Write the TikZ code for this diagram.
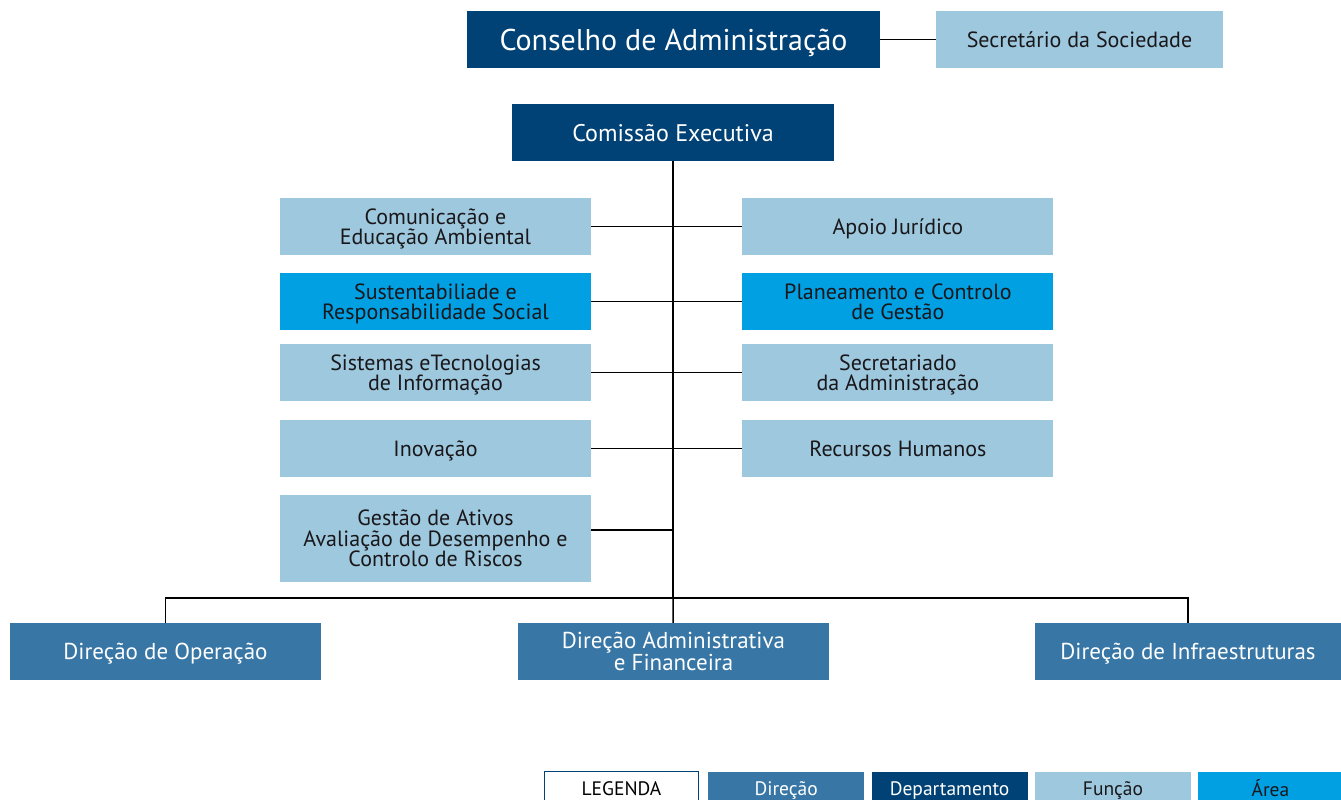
\documentclass[tikz,border=0pt]{standalone}
\usepackage{fontspec}
\setmainfont{PT Sans}
\usepackage{xcolor}
\usepackage{tikz}
\usetikzlibrary{positioning}

\definecolor{navy}{RGB}{0,66,117}
\definecolor{direcaoblue}{RGB}{55,118,165}
\definecolor{funcaoblue}{RGB}{157,200,221}
\definecolor{areablue}{RGB}{0,160,227}
\definecolor{textdark}{RGB}{26,23,27}

\begin{document}
\begin{tikzpicture}[x=1pt, y=-1pt, node distance = 151pt]
            \tikzstyle{box} = [rectangle, inner sep=0pt, align=center, minimum height=57pt, text depth=0pt, font=\fontsize{22}{20.5}\selectfont]
            \tikzstyle{departamento} = [box, fill=navy, text=white]
            \tikzstyle{direcao} = [box, fill=direcaoblue, text=white, minimum width=311pt, font=\fontsize{23}{20.5}\selectfont]
            \tikzstyle{funcao} = [box, fill=funcaoblue, text=textdark, minimum width=311pt]
            \tikzstyle{area} = [box, fill=areablue, text=textdark, minimum width=311pt]
            \tikzstyle{legenda} = [box, minimum width=156pt, minimum height=34pt, font=\fontsize{19.5}{19.5}\selectfont]
            \tikzstyle{link} = [line width=1.5pt, black]
            \useasboundingbox (0,0) rectangle (1341,800);

            \node [departamento, minimum width=413pt, font=\fontsize{30}{30}\selectfont] (CA) at (673.5,39.5) {Conselho de Administração};
            \node [funcao, minimum width=287pt] (SS) at (1079.5,39.5) {Secretário da Sociedade};
            \node [departamento, minimum width=322pt, font=\fontsize{24}{24}\selectfont] (CE) at (673,132.5) {Comissão Executiva};

            \node [funcao] (L1) at (435.5,226.5) {Comunicação e\\Educação Ambiental};
            \node [area] (L2) at (435.5,301.5) {Sustentabiliade e\\Responsabilidade Social};
            \node [funcao] (L3) at (435.5,372.5) {Sistemas eTecnologias\\de Informação};
            \node [funcao] (L4) at (435.5,448.5) {Inovação};
            \node [funcao, minimum height=87pt] (L5) at (435.5,538.5) {Gestão de Ativos\\Avaliação de Desempenho e\\Controlo de Riscos};

            \node [funcao, right = of L1] (R1) {Apoio Jurídico};
            \node [area, right = of L2] (R2) {Planeamento e Controlo\\de Gestão};
            \node [funcao, right = of L3] (R3) {Secretariado\\da Administração};
            \node [funcao, right = of L4] (R4) {Recursos Humanos};

            \node [direcao] (D1) at (165.5,651.5) {Direção de Operação};
            \node [direcao] (D2) at (673.5,651.5) {Direção Administrativa\\e Financeira};
            \node [direcao, minimum width=306pt] (D3) at (1188,651.5) {Direção de Infraestruturas};

            \node [legenda, fill=white, draw=navy, line width=1pt, minimum width=154pt, text=black] (LG) at (621.5,788.5) {LEGENDA};
            \node [legenda, fill=direcaoblue, text=white, right = 9pt of LG] (LD) {Direção};
            \node [legenda, fill=navy, text=white, right = 7pt of LD] (LP) {Departamento};
            \node [legenda, fill=funcaoblue, text=textdark, right = 7pt of LP] (LF) {Função};
            \node [legenda, fill=areablue, text=textdark, minimum width=144pt, right = 7pt of LF] (LA) {Área};

            \coordinate (J) at (673,598);

            \draw [link] (CA) -- (SS);
            \draw [link] (CE) -- (J);
            \foreach \i in {1, 2, 3, 4}
                \draw [link] (L\i) -- (R\i);
            \draw [link] ([yshift=8.5pt]L5.east) -- ([yshift=8.5pt]L5.east -| CE.south);
            \draw [link] (D1.north) |- (J) -| (D3.north);
            \draw [link] (J) -- (D2);
        \end{tikzpicture}
\end{document}
